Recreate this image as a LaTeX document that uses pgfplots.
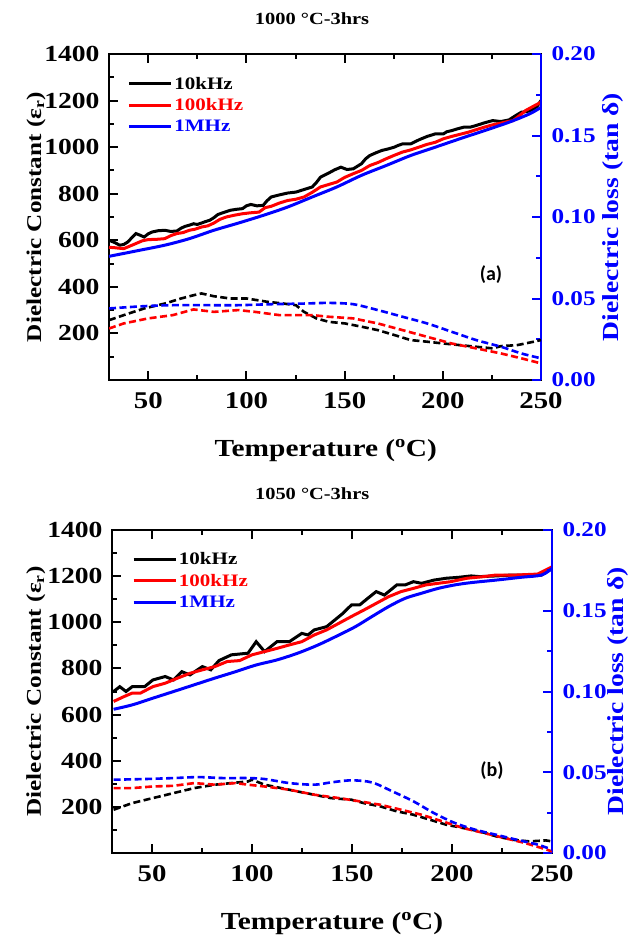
\documentclass[border=0pt]{standalone}
\usepackage{fontspec}
\setmainfont{Liberation Serif}[FakeStretch=1.2]
\newfontfamily\calfont{Carlito}
\usepackage{pgfplots}
\pgfplotsset{compat=1.18}

\pgfplotsset{
  panel/.style={scale only axis, xmin=30, xmax=250, tick align=inside,
    major tick length=9pt, minor tick length=5pt,
    every tick/.style={line width=2pt},
    /pgf/number format/assume math mode=true,
    /pgf/number format/1000 sep={}},
  leftax/.style={panel, ymin=0, ymax=1400,
    axis line style={line width=2.6pt},
    xtick={50,100,150,200,250}, minor xtick={75,125,175,225},
    ytick={200,400,...,1400}, minor ytick={100,300,...,1300},
    xtick pos=both, ytick pos=left,
    xticklabel style={font=\bfseries\fontsize{24}{24}\selectfont, yshift=-9pt},
    yticklabel style={font=\bfseries\fontsize{23}{23}\selectfont, xshift=-6pt},
    xlabel style={font=\bfseries\fontsize{24.5}{24.5}\selectfont, anchor=center},
    ylabel style={font=\bfseries\fontsize{21}{21}\selectfont, anchor=center},
    title style={font=\bfseries\fontsize{17}{17}\selectfont, anchor=center},
    legend style={draw=none, fill=none, anchor=north west,
      font=\bfseries\fontsize{17.5}{17.5}\selectfont, row sep=4pt, inner sep=0pt},
    legend cell align=left,
    legend image code/.code={\draw[#1] (0pt,0pt) -- (42pt,0pt);}},
  rightax/.style={panel, ymin=0, ymax=0.2, axis x line=none, axis y line*=right,
    y axis line style={blue, line width=2.6pt, -},
    ytick={0,0.05,0.1,0.15,0.2}, minor ytick={0.025,0.075,0.125,0.175},
    every tick/.append style={blue},
    yticklabel style={blue, font=\bfseries\fontsize{21}{21}\selectfont, xshift=7pt},
    yticklabel={\pgfmathprintnumber[fixed,fixed zerofill,precision=2]{\tick}},
    ylabel style={blue, font=\bfseries\fontsize{23}{23}\selectfont, anchor=center}},
  sol/.style={line width=3pt},
  das/.style={line width=2.6pt, dash pattern=on 7pt off 3.5pt},
}

\begin{document}
\begin{tikzpicture}[x=1pt,y=1pt]
\path[use as bounding box] (0,0) rectangle (643,-938);

% ---------- panel (a) ----------
\begin{axis}[leftax, at={(109pt,-380pt)}, anchor=south west, width=432pt, height=326pt,
  xlabel={Temperature (\textsuperscript{o}C)},
  xlabel style={at={(axis description cs:0.502,-0.215)}},
  ylabel={Dielectric Constant (ε\textsubscript{r})},
  ylabel style={at={(axis description cs:-0.169,0.5)}},
  title={1000 °C-3hrs},
  title style={at={(axis description cs:0.47,1.089)}},
  legend style={at={(axis description cs:0.042,0.936)}},
  legend entries={10kHz, \textcolor{red}{100kHz}, \textcolor{blue}{1MHz}}]
\addplot[sol, black] coordinates {(30,600)(33,590)(35.4,579)(37.5,582)(39.6,593)(41.5,610)(43.7,629)(45.8,622)(47.9,614)(50,628)(52.1,636)(55,641)(58.4,643)(61.5,638)(64.6,640)(66.7,652)(68.8,660)(71,665)(73,671)(75,668)(77.1,674)(79,680)(81.3,686)(83.4,697)(85.5,711)(88.6,720)(91.8,729)(94.9,733)(98,736)(100,748)(102.2,754)(105.3,748)(108.5,750)(110.5,770)(112.6,786)(116.8,795)(121,803)(125.2,807)(129.3,818)(133.5,829)(135.6,848)(137.7,871)(139.8,880)(141.9,889)(145,903)(148.1,914)(151.2,904)(154.4,907)(156.5,918)(158.6,929)(160.7,950)(162.8,964)(166,976)(169,986)(172,992)(175.3,1000)(177.4,1008)(179.5,1014)(183.6,1014)(188,1032)(192,1046)(196.2,1057)(200.3,1057)(202,1066)(204.5,1071)(207.6,1079)(210.8,1086)(214,1086)(217,1093)(221,1104)(225.4,1114)(229.6,1110)(233.7,1117)(237,1135)(240,1150)(243,1153)(246.3,1164)(248,1175)(250,1200)};
\addplot[sol, red] coordinates {(30,570)(33,568)(37.5,564)(40.6,575)(43.7,586)(47,598)(50,603)(54,604)(58.4,607)(61.5,620)(64.6,629)(67.7,633)(70.9,643)(74,648)(77.1,657)(80.3,662)(83.4,674)(86.5,690)(89.7,700)(94,708)(98,714)(102,718)(106.4,721)(109.5,740)(112.6,746)(116.8,760)(121,771)(125,776)(129.3,786)(133.5,806)(137.7,829)(142,840)(146,850)(150,870)(154.4,886)(158.6,900)(162.8,921)(167,934)(171.1,950)(175.3,965)(179.5,979)(183.6,988)(187.8,1000)(192,1012)(196.2,1021)(200.3,1036)(204.5,1046)(208.7,1055)(212.9,1064)(217,1075)(221.2,1086)(225.4,1096)(229.6,1103)(233,1110)(235.8,1114)(239,1135)(242.1,1157)(246,1175)(250,1193)};
\addplot[sol, blue, smooth] coordinates {(30,531)(43.7,554)(58.4,579)(70.9,607)(83.4,643)(95.9,674)(108.5,707)(121,743)(133.5,786)(146,829)(158.6,879)(171.1,921)(183.6,964)(196.2,1000)(208.7,1036)(221.2,1071)(233.7,1107)(244.2,1143)(250,1171)};
\end{axis}
\begin{axis}[rightax, at={(109pt,-380pt)}, anchor=south west, width=432pt, height=326pt,
  ylabel={Dielectric loss (tan δ)},
  ylabel style={at={(axis description cs:1.167,0.5)}}]
\addplot[das, black] coordinates {(30,0.0367)(37.5,0.0398)(47.9,0.0439)(58.4,0.0469)(66.7,0.050)(73,0.052)(77.1,0.0531)(83.4,0.0514)(91.8,0.050)(100.1,0.050)(110.6,0.048)(118.9,0.0469)(125.2,0.0459)(129.3,0.0418)(135.6,0.0378)(141.9,0.0357)(150.2,0.0347)(158.6,0.0327)(166.9,0.0306)(175.3,0.0276)(183.6,0.0245)(192,0.0235)(200.3,0.0224)(208.7,0.0214)(217,0.0204)(225.4,0.0194)(229.6,0.0208)(237.9,0.0214)(246.3,0.0235)(250,0.0245)};
\addplot[das, red] coordinates {(30,0.0316)(37.5,0.0347)(50,0.0378)(62.5,0.0398)(73,0.0433)(83.4,0.0418)(95.9,0.0429)(104.3,0.0418)(116.8,0.0398)(125.2,0.0398)(133.5,0.0398)(141.9,0.0388)(154.4,0.0378)(166.9,0.0347)(179.5,0.0306)(192,0.0265)(204.5,0.0224)(217,0.0194)(229.6,0.0163)(240,0.0133)(250,0.0102)};
\addplot[das, blue, smooth] coordinates {(30,0.0439)(47.9,0.0453)(62.5,0.0459)(79.2,0.0459)(95.9,0.0459)(112.6,0.0465)(129.3,0.0469)(141.9,0.0473)(154.4,0.0465)(166.9,0.0429)(179.5,0.0388)(192,0.0347)(204.5,0.0296)(217,0.0245)(229.6,0.0204)(240,0.0163)(250,0.0133)};
\end{axis}
\node[font=\calfont\bfseries\fontsize{20}{20}\selectfont] at (491,-275) {(a)};

% ---------- panel (b) ----------
\begin{axis}[leftax, at={(112pt,-853pt)}, anchor=south west, width=440pt, height=323pt,
  xlabel={Temperature (\textsuperscript{o}C)},
  xlabel style={at={(axis description cs:0.5,-0.217)}},
  ylabel={Dielectric Constant (ε\textsubscript{r})},
  ylabel style={at={(axis description cs:-0.173,0.5)}},
  title={1050 °C-3hrs},
  title style={at={(axis description cs:0.455,1.093)}},
  legend style={at={(axis description cs:0.045,0.938)}},
  legend entries={10kHz, \textcolor{red}{100kHz}, \textcolor{blue}{1MHz}}]
\addplot[sol, black] coordinates {(30.8,700)(33.9,721)(37,700)(40.1,721)(46.3,721)(50.4,750)(56.6,765)(60.8,750)(64.9,786)(69,772)(75.2,808)(79.4,794)(83.5,834)(89.7,859)(98,866)(102.1,916)(106.3,873)(112.5,916)(118.7,916)(124.9,952)(128,945)(131.1,967)(137.3,981)(141.4,1010)(145.5,1039)(149.7,1075)(153.8,1075)(157.9,1104)(162.1,1133)(166.2,1118)(172.4,1162)(176.6,1162)(180.7,1176)(184.8,1169)(191,1183)(197.2,1191)(203.4,1195)(209.6,1201)(213.8,1198)(222.1,1201)(230.3,1205)(238.6,1205)(244.8,1205)(248.9,1227)(250,1240)};
\addplot[sol, red] coordinates {(30.8,657)(36,678)(40.1,693)(44.2,693)(50.4,721)(56.6,736)(62.8,758)(69,779)(75.2,794)(81.4,808)(87.6,830)(93.8,834)(100,859)(106.3,873)(112.5,887)(118.7,902)(124.9,916)(131.1,945)(137.3,967)(143.5,996)(149.7,1025)(155.9,1053)(162.1,1082)(168.3,1111)(174.5,1133)(180.7,1147)(186.9,1162)(193.1,1169)(199.3,1176)(207.6,1191)(215.9,1198)(222.1,1205)(232.4,1205)(242.8,1209)(250,1240)};
\addplot[sol, blue, smooth] coordinates {(30.8,623)(40.1,642)(50.4,671)(60.8,700)(71.1,729)(81.4,758)(91.8,786)(102.1,815)(112.5,837)(122.8,866)(133.1,902)(143.5,945)(151.7,981)(160,1025)(168.3,1068)(176.6,1104)(184.8,1126)(193.1,1147)(201.4,1162)(209.6,1172)(222.1,1183)(234.5,1195)(244.8,1205)(250,1234)};
\end{axis}
\begin{axis}[rightax, at={(112pt,-853pt)}, anchor=south west, width=440pt, height=323pt,
  ylabel={Dielectric loss (tan δ)},
  ylabel style={at={(axis description cs:1.15,0.5)}}]
\addplot[das, black] coordinates {(30.8,0.0268)(40.1,0.0309)(50.4,0.0340)(60.8,0.0371)(71.1,0.0402)(81.4,0.0423)(89.7,0.0433)(98,0.0443)(100,0.0454)(106.3,0.0423)(114.6,0.0402)(122.8,0.0381)(131.1,0.0361)(139.4,0.0340)(149.7,0.0330)(155.9,0.0309)(164.1,0.0289)(172.4,0.0258)(180.7,0.0237)(189,0.0206)(197.2,0.0175)(205.5,0.0155)(213.8,0.0134)(222.1,0.0103)(230.3,0.0082)(238.6,0.0072)(246.9,0.0078)(250,0.0072)};
\addplot[das, red] coordinates {(30.8,0.0402)(40.1,0.0402)(50.4,0.0412)(60.8,0.0416)(71.1,0.0433)(81.4,0.0423)(91.8,0.0433)(98,0.0423)(106.3,0.0412)(118.7,0.0392)(131.1,0.0361)(143.5,0.0340)(153.8,0.0320)(164.1,0.0299)(174.5,0.0268)(184.8,0.0237)(195.2,0.0196)(205.5,0.0155)(215.9,0.0124)(226.2,0.0093)(236.5,0.0062)(244.8,0.0031)(250,0.0010)};
\addplot[das, blue, smooth] coordinates {(30.8,0.0454)(46.3,0.0458)(60.8,0.0464)(73.2,0.0470)(85.6,0.0464)(98,0.0464)(106.3,0.0458)(118.7,0.0433)(131.1,0.0423)(139.4,0.0437)(149.7,0.0450)(160,0.0437)(170.3,0.0381)(180.7,0.0320)(191,0.0247)(201.4,0.0186)(211.7,0.0144)(222.1,0.0113)(232.4,0.0082)(242.8,0.0052)(250,0.0021)};
\end{axis}
\node[font=\calfont\bfseries\fontsize{20}{20}\selectfont] at (492,-771) {(b)};
\end{tikzpicture}
\end{document}
